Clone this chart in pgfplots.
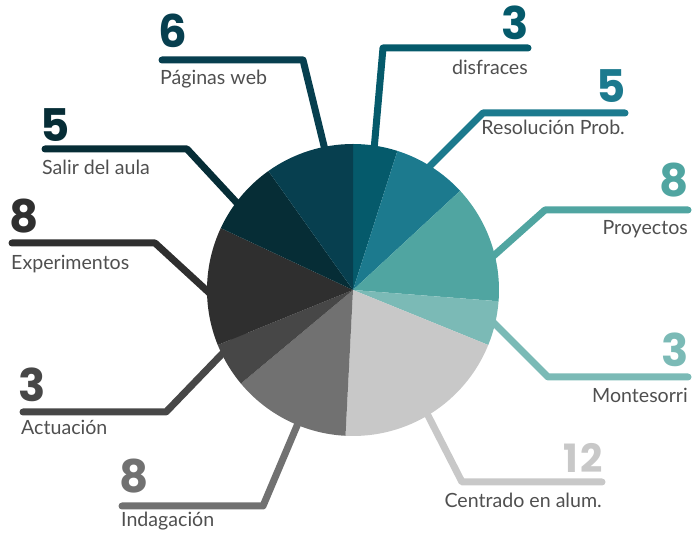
\documentclass[border=0pt]{standalone}
\usepackage{fontspec}
\setmainfont{Lato}
\newfontfamily\numfont{Poppins}
\usepackage{pgfplots}
\usepackage{pgfplotstable}
\pgfplotsset{compat=1.18}

\definecolor{cDis}{HTML}{055A6B}
\definecolor{cRes}{HTML}{1C7A8E}
\definecolor{cPro}{HTML}{50A5A1}
\definecolor{cMon}{HTML}{7BBAB6}
\definecolor{cCen}{HTML}{C8C8C8}
\definecolor{cInd}{HTML}{717171}
\definecolor{cAct}{HTML}{474747}
\definecolor{cExp}{HTML}{2F2F2F}
\definecolor{cSal}{HTML}{062D36}
\definecolor{cPag}{HTML}{073F4F}
\definecolor{labgrey}{HTML}{4F4F4F}

% slices clockwise from 12 o'clock
\pgfplotstableread{
value colour
3  cDis
5  cRes
8  cPro
3  cMon
12 cCen
8  cInd
3  cAct
8  cExp
5  cSal
6  cPag
}\piedata

\tikzset{
  num/.style={inner sep=0pt, font=\numfont\bfseries\fontsize{45}{50}\selectfont},
  lab/.style={inner sep=0pt, text=labgrey, font=\fontsize{19.6}{22}\selectfont},
}

\begin{document}
\begin{tikzpicture}
  \def\pietotal{0}
  \pgfplotsforeachungrouped \i in {0,...,9}{%
    \pgfplotstablegetelem{\i}{value}\of\piedata
    \pgfmathsetmacro\pietotal{\pietotal+\pgfplotsretval}%
  }
  \gdef\piecum{0}
  \begin{axis}[
      x=1pt, y=1pt,
      xmin=0, xmax=694, ymin=0, ymax=535,
      hide axis, clip=false,
      call/.style={line width=7pt, line cap=round, line join=round, mark=none}
    ]
    % callout lines (behind the pie)
    \addplot[call, cPag] coordinates {(162,475) (303,475) (325,385)};
    \addplot[call, cDis] coordinates {(528,487) (383,487) (374,385)};
    \addplot[call, cRes] coordinates {(625,422) (483,422) (410,349)};
    \addplot[call, cPro] coordinates {(688,325) (545,325) (480,267)};
    \addplot[call, cMon] coordinates {(688,158) (548,158) (478,228)};
    \addplot[call, cCen] coordinates {(602,53) (462,53) (415,145)};
    \addplot[call, cInd] coordinates {(122,29) (263,29) (310,140)};
    \addplot[call, cAct] coordinates {(23,123) (166,123) (250,210)};
    \addplot[call, cExp] coordinates {(12,292) (155,292) (241,213)};
    \addplot[call, cSal] coordinates {(45,386) (187,386) (250,318)};

    % pie wedges
    \pgfplotsinvokeforeach{0,...,9}{
      \pgfplotstablegetelem{#1}{value}\of\piedata
      \pgfmathsetmacro\pa{90-\piecum/\pietotal*360}
      \pgfmathsetmacro\piecumnew{\piecum+\pgfplotsretval}
      \global\let\piecum\piecumnew
      \pgfmathsetmacro\pb{90-\piecum/\pietotal*360}
      \pgfplotstablegetelem{#1}{colour}\of\piedata
      \edef\temp{\noexpand\fill[\pgfplotsretval] (axis cs:353,245) -- ++(\pa:146pt)
        arc[start angle=\pa, end angle=\pb, radius=146pt] -- cycle;}
      \temp
    }

    % numbers and labels
    \node[num, text=cPag, anchor=base west] at (axis cs:158,487) {6};
    \node[lab, anchor=base west] at (axis cs:160,450) {Páginas web};
    \node[num, text=cDis, anchor=base east] at (axis cs:529,495) {3};
    \node[lab, anchor=base east] at (axis cs:528,460) {disfraces};
    \node[num, text=cRes, anchor=base east] at (axis cs:626,432) {5};
    \node[lab, anchor=base east] at (axis cs:625,400) {Resolución Prob.};
    \node[num, text=cPro, anchor=base east] at (axis cs:689,338) {8};
    \node[lab, anchor=base east] at (axis cs:688,300) {Proyectos};
    \node[num, text=cMon, anchor=base east] at (axis cs:689,168) {3};
    \node[lab, anchor=base east] at (axis cs:688,132) {Montesorri};
    \node[num, text=cCen, anchor=base east, font=\numfont\bfseries\fontsize{39}{42}\selectfont] at (axis cs:603,62) {1\kern2pt2};
    \node[lab, anchor=base east] at (axis cs:602,27) {Centrado en alum.};
    \node[num, text=cInd, anchor=base west] at (axis cs:119,42) {8};
    \node[lab, anchor=base west] at (axis cs:121,8) {Indagación};
    \node[num, text=cAct, anchor=base west] at (axis cs:18,133) {3};
    \node[lab, anchor=base west] at (axis cs:21,100) {Actuación};
    \node[num, text=cExp, anchor=base west] at (axis cs:9,302) {8};
    \node[lab, anchor=base west] at (axis cs:11,265) {Experimentos};
    \node[num, text=cSal, anchor=base west] at (axis cs:40,393) {5};
    \node[lab, anchor=base west] at (axis cs:42,360) {Salir del aula};
  \end{axis}
  \pgfresetboundingbox
  \path (current axis.south west) rectangle (current axis.north east);
\end{tikzpicture}
\end{document}
